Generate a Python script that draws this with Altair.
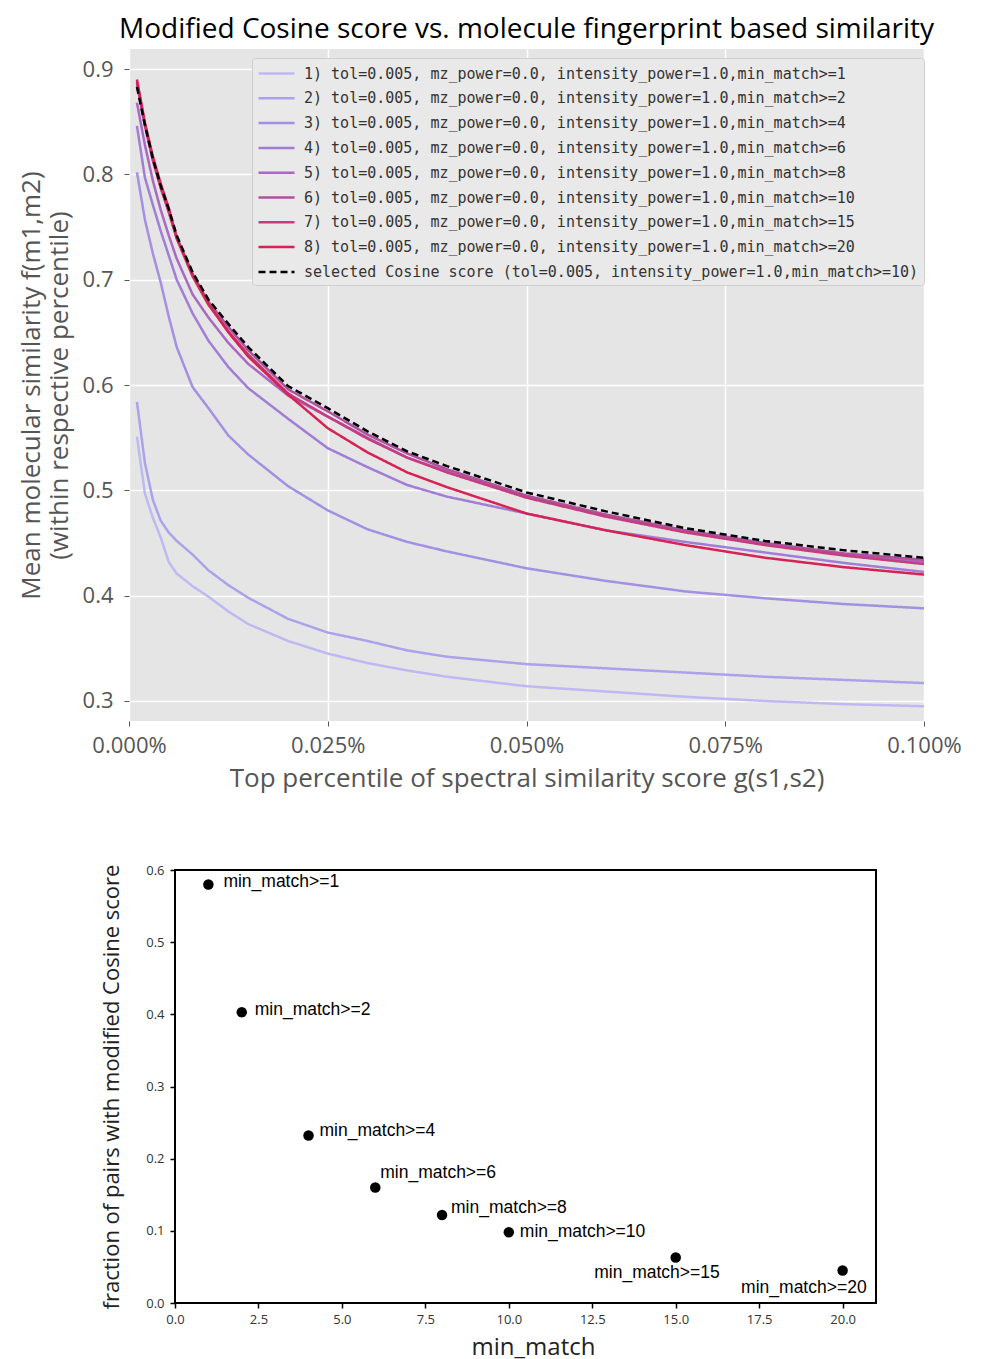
import altair as alt
import pandas as pd

# ---------------- data: top panel ----------------
PCT = [0.001, 0.002, 0.003, 0.004, 0.005, 0.006, 0.008, 0.01, 0.0125, 0.015,
       0.02, 0.025, 0.03, 0.035, 0.04, 0.05, 0.06, 0.07, 0.08, 0.09, 0.1]

MM1 = [0.551, 0.497, 0.474, 0.455, 0.432, 0.421, 0.409, 0.399, 0.385, 0.373,
       0.357, 0.345, 0.336, 0.329, 0.323, 0.314, 0.309, 0.304, 0.300, 0.297, 0.295]
MM2 = [0.584, 0.526, 0.491, 0.471, 0.460, 0.452, 0.439, 0.424, 0.410, 0.398,
       0.378, 0.365, 0.357, 0.348, 0.342, 0.335, 0.331, 0.327, 0.323, 0.320, 0.317]
MM4 = [0.802, 0.757, 0.725, 0.697, 0.665, 0.636, 0.598, 0.578, 0.552, 0.534,
       0.504, 0.481, 0.463, 0.451, 0.442, 0.426, 0.414, 0.404, 0.3975, 0.392, 0.388]
MM6 = [0.846, 0.797, 0.771, 0.746, 0.723, 0.700, 0.668, 0.642, 0.617, 0.597,
       0.568, 0.540, 0.522, 0.505, 0.494, 0.478, 0.462, 0.451, 0.441, 0.431, 0.4225]
MM8 = [0.868, 0.828, 0.794, 0.766, 0.742, 0.720, 0.686, 0.664, 0.640, 0.620,
       0.590, 0.570, 0.550, 0.531, 0.518, 0.494, 0.476, 0.461, 0.449, 0.439, 0.432]
MM10 = [0.886, 0.846, 0.813, 0.787, 0.765, 0.740, 0.705, 0.679, 0.655, 0.633,
        0.596, 0.575, 0.553, 0.535, 0.520, 0.495, 0.477, 0.462, 0.450, 0.440, 0.434]
MM15 = [0.888, 0.848, 0.814, 0.787, 0.764, 0.739, 0.703, 0.676, 0.651, 0.629,
        0.592, 0.570, 0.549, 0.531, 0.517, 0.493, 0.475, 0.460, 0.448, 0.438, 0.430]
MM20 = [0.890, 0.849, 0.817, 0.791, 0.768, 0.740, 0.705, 0.677, 0.650, 0.627,
        0.591, 0.559, 0.536, 0.517, 0.503, 0.478, 0.462, 0.448, 0.436, 0.427, 0.420]
SELECTED = [0.883, 0.847, 0.815, 0.789, 0.767, 0.742, 0.707, 0.681, 0.658, 0.636,
            0.599, 0.578, 0.556, 0.537, 0.523, 0.498, 0.480, 0.464, 0.452, 0.443, 0.436]

SERIES = [
    "1) tol=0.005, mz_power=0.0, intensity_power=1.0,min_match>=1",
    "2) tol=0.005, mz_power=0.0, intensity_power=1.0,min_match>=2",
    "3) tol=0.005, mz_power=0.0, intensity_power=1.0,min_match>=4",
    "4) tol=0.005, mz_power=0.0, intensity_power=1.0,min_match>=6",
    "5) tol=0.005, mz_power=0.0, intensity_power=1.0,min_match>=8",
    "6) tol=0.005, mz_power=0.0, intensity_power=1.0,min_match>=10",
    "7) tol=0.005, mz_power=0.0, intensity_power=1.0,min_match>=15",
    "8) tol=0.005, mz_power=0.0, intensity_power=1.0,min_match>=20",
    "selected Cosine score (tol=0.005, intensity_power=1.0,min_match>=10)",
]
SERIES_VALUES = [MM1, MM2, MM4, MM6, MM8, MM10, MM15, MM20, SELECTED]

COLORS = ["#bdb9f2", "#aaa3ec", "#a390e2", "#a17dd6", "#a968c4",
          "#b0519f", "#c53d7d", "#d62255", "#000000"]
DASHES = [[1, 0]] * 8 + [[7, 4]]

# ---------------- data: bottom panel ----------------
MIN_MATCH = [1, 2, 4, 6, 8, 10, 15, 20]
FRACTION = [0.580, 0.403, 0.232, 0.160, 0.122, 0.098, 0.063, 0.045]
POINT_LABELS = ["min_match>=1", "min_match>=2", "min_match>=4", "min_match>=6",
                "min_match>=8", "min_match>=10", "min_match>=15", "min_match>=20"]

# ---------------- top chart ----------------
rows = []
for name, vals in zip(SERIES, SERIES_VALUES):
    for p, v in zip(PCT, vals):
        rows.append({"pct": p, "sim": v, "series": name})
top_df = pd.DataFrame(rows)

GRAY = "#555555"
legend = alt.Legend(
    title=None, orient="none", legendX=123, legendY=9,
    fillColor="#e9e9e9", strokeColor="#cfcfcf", cornerRadius=3, padding=5,
    labelFont="DejaVu Sans Mono", labelFontSize=15, labelColor="#333333",
    symbolType="M-1,0H3", symbolSize=324, symbolStrokeWidth=2.5,
    labelOffset=26, rowPadding=5.8, labelLimit=700,
)

top = alt.Chart(top_df).mark_line(strokeWidth=2.5, clip=True).encode(
    x=alt.X(
        "pct:Q",
        scale=alt.Scale(domain=[0, 0.1], nice=False),
        axis=alt.Axis(
            values=[0, 0.025, 0.05, 0.075, 0.1],
            labelExpr="format(datum.value, '.3f') + '%'",
            title="Top percentile of spectral similarity score g(s1,s2)",
            labelFont="Open Sans", labelFontSize=22, labelColor=GRAY, labelFlush=False,
            titleFont="Open Sans", titleFontSize=26, titleColor=GRAY,
            titleFontWeight="normal", titlePadding=9,
            domain=False, tickColor=GRAY, tickSize=5, labelPadding=9,
            grid=True, gridColor="white", gridWidth=1.5,
        ),
    ),
    y=alt.Y(
        "sim:Q",
        scale=alt.Scale(domain=[0.281, 0.919], nice=False, zero=False),
        axis=alt.Axis(
            values=[0.3, 0.4, 0.5, 0.6, 0.7, 0.8, 0.9], format=".1f",
            title=["Mean molecular similarity f(m1,m2)", "(within respective percentile)"],
            labelFont="Open Sans", labelFontSize=22, labelColor=GRAY, labelFlush=False,
            titleFont="Open Sans", titleFontSize=26, titleColor=GRAY,
            titleFontWeight="normal", titlePadding=10, titleLineHeight=28,
            domain=False, tickColor=GRAY, tickSize=5, labelPadding=11,
            grid=True, gridColor="white", gridWidth=1.5,
        ),
    ),
    color=alt.Color("series:N", scale=alt.Scale(domain=SERIES, range=COLORS), legend=legend),
    strokeDash=alt.StrokeDash("series:N", scale=alt.Scale(domain=SERIES, range=DASHES), legend=legend),
).properties(
    width=795, height=672,
    view=alt.ViewBackground(fill="#E5E5E5", stroke=None),
    title=alt.TitleParams(
        text="Modified Cosine score vs. molecule fingerprint based similarity",
        font="Open Sans", fontSize=28, fontWeight="normal", color="black",
        anchor="middle", offset=5,
    ),
)

# ---------------- bottom chart ----------------
pts_df = pd.DataFrame({"min_match": MIN_MATCH, "fraction": FRACTION, "label": POINT_LABELS})
X_LIMITS = [0.0, 21.0]
Y_LIMITS = [0.0, 0.6]
frame_df = pd.DataFrame({"x0": [X_LIMITS[0]], "x1": [X_LIMITS[1]],
                         "y0": [Y_LIMITS[0]], "y1": [Y_LIMITS[1]]})

xscale = alt.Scale(domain=[-1.378, X_LIMITS[1]], nice=False, zero=False)
yscale = alt.Scale(domain=Y_LIMITS, nice=False)

AX_X = alt.Axis(
    values=[0, 2.5, 5, 7.5, 10, 12.5, 15, 17.5, 20], format=".1f",
    title="min_match", domain=False, grid=False, labelFlush=False,
    tickColor="black", tickSize=5, tickWidth=1.5,
    labelFont="Open Sans", labelFontSize=13, labelColor="#333333", labelPadding=5,
    titleFont="Open Sans", titleFontSize=24, titleColor="#222222",
    titleFontWeight="normal", titlePadding=9, titleX=404, titleAlign="center",
)
AX_Y = alt.Axis(
    values=[0, 0.1, 0.2, 0.3, 0.4, 0.5, 0.6], format=".1f",
    title="fraction of pairs with modified Cosine score",
    offset=-46, domain=False, grid=False, labelFlush=False,
    tickColor="black", tickSize=5, tickWidth=1.5,
    labelFont="Open Sans", labelFontSize=13, labelColor="#333333", labelPadding=6,
    titleFont="Open Sans", titleFontSize=22, titleColor="#222222",
    titleFontWeight="normal", titlePadding=22,
)

pts = alt.Chart(pts_df).mark_circle(size=110, color="black", opacity=1).encode(
    x=alt.X("min_match:Q", scale=xscale, axis=AX_X),
    y=alt.Y("fraction:Q", scale=yscale, axis=AX_Y),
)

frame = alt.Chart(frame_df).mark_rect(fill="transparent", stroke="black", strokeWidth=2).encode(
    x=alt.X("x0:Q", scale=xscale, axis=AX_X), x2="x1:Q",
    y=alt.Y("y0:Q", scale=yscale, axis=AX_Y), y2="y1:Q",
)

LABEL_STYLE = {
    "min_match>=1": (15, -2, "left"),
    "min_match>=2": (13, -2, "left"),
    "min_match>=4": (11, -5, "left"),
    "min_match>=6": (5, -15, "left"),
    "min_match>=8": (9, -7, "left"),
    "min_match>=10": (11, 0, "left"),
    "min_match>=15": (44, 15, "right"),
    "min_match>=20": (24, 17, "right"),
}
text_layers = []
for lab, (dx, dy, al) in LABEL_STYLE.items():
    text_layers.append(
        alt.Chart(pts_df).transform_filter(alt.datum.label == lab).mark_text(
            dx=dx, dy=dy, align=al, baseline="middle",
            font="Liberation Sans", fontSize=17.5, color="black",
        ).encode(
            x=alt.X("min_match:Q", scale=xscale, axis=AX_X),
            y=alt.Y("fraction:Q", scale=yscale, axis=AX_Y),
            text="label:N",
        )
    )

bottom = alt.layer(pts, frame, *text_layers).properties(
    width=747, height=433,
    view=alt.ViewBackground(fill="white", stroke=None),
)

chart = alt.vconcat(top, bottom, spacing=73).configure_view(stroke=None).properties(
    padding={"left": 10, "top": 8, "right": 5, "bottom": 5},
    background="white",
)

chart.save("out.html", embed_options={"renderer": "svg", "actions": False})
